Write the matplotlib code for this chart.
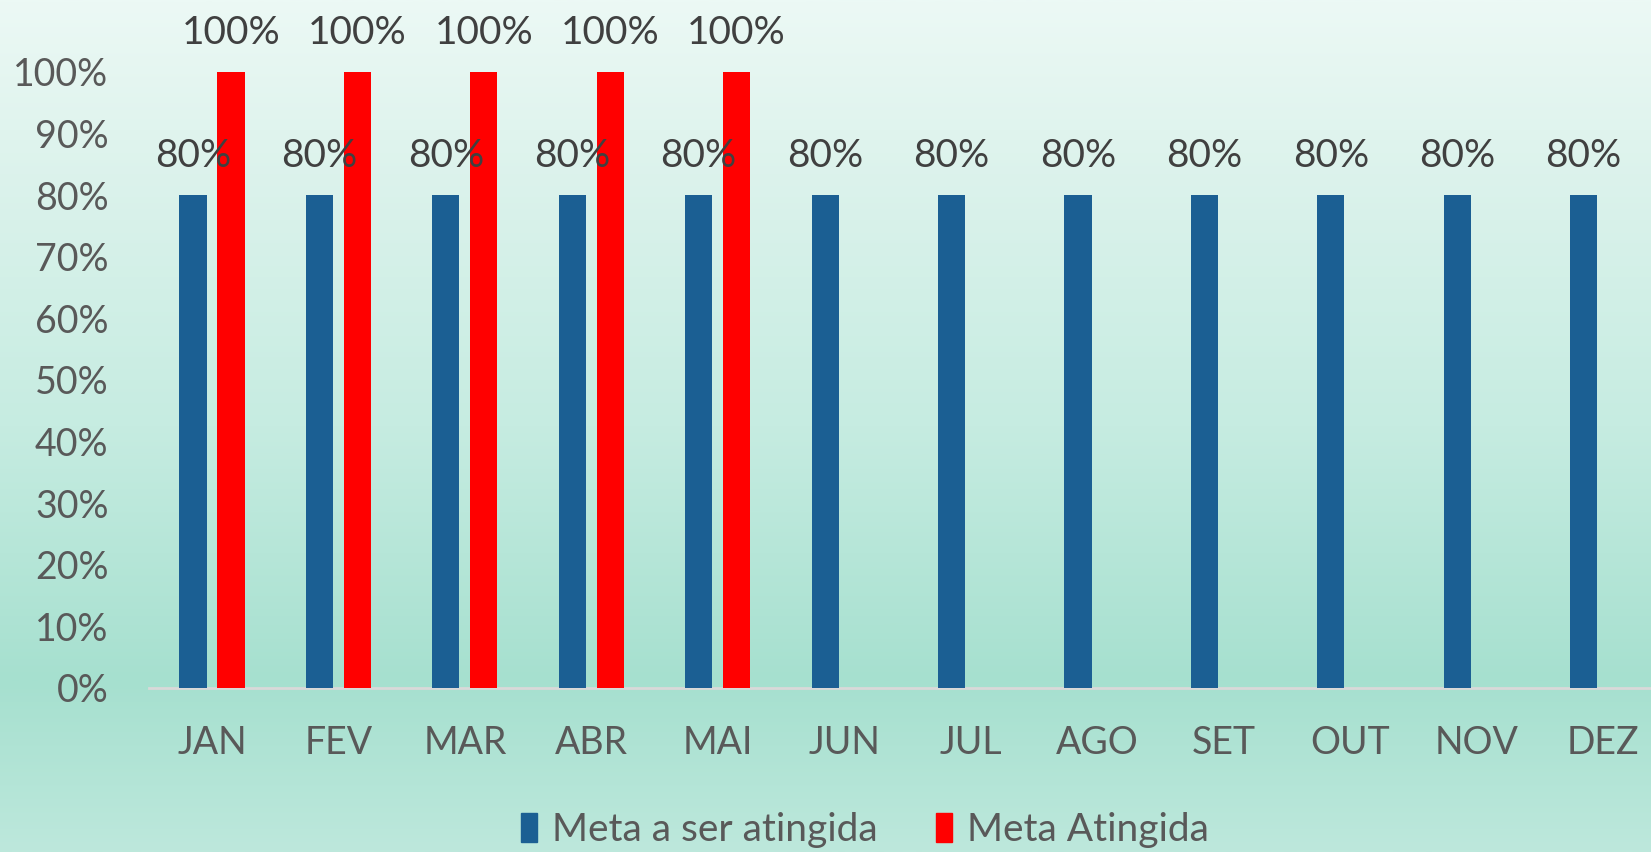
import numpy as np
import matplotlib
matplotlib.use("Agg")
import matplotlib.pyplot as plt
from matplotlib.colors import LinearSegmentedColormap
from matplotlib.patches import Patch

months = ["JAN", "FEV", "MAR", "ABR", "MAI", "JUN", "JUL", "AGO", "SET", "OUT", "NOV", "DEZ"]
meta_alvo = [0.80] * 12
meta_atingida = [1.00, 1.00, 1.00, 1.00, 1.00]
yticks = [0.0, 0.1, 0.2, 0.3, 0.4, 0.5, 0.6, 0.7, 0.8, 0.9, 1.0]
series_names = ["Meta a ser atingida", "Meta Atingida"]

BLUE = "#1b5f93"
RED = "#ff0000"
TXT = "#595959"
LBL = "#404040"

plt.rcParams['font.family'] = ['Lato', 'DejaVu Sans']

fig = plt.figure(figsize=(16.51, 8.52), dpi=100)

# background gradient
bg = fig.add_axes([0, 0, 1, 1], zorder=-10)
cmap = LinearSegmentedColormap.from_list(
    "bg", [(0.0, "#ecf9f5"), (0.15, "#e0f4ee"), (0.5, "#c6ece1"), (0.8, "#a6e0cf"), (1.0, "#bde8dc")])
grad = np.linspace(0, 1, 512).reshape(-1, 1)
bg.imshow(grad, aspect="auto", cmap=cmap, extent=[0, 1, 0, 1], origin="upper")
bg.set_axis_off()

ax = fig.add_axes([148.8 / 1651, 1 - 688 / 852, 1517 / 1651, (688 - 72) / 852])
ax.patch.set_alpha(0)

x = np.arange(len(months))
w = 0.215
off = 0.15
b1 = ax.bar(x - off, meta_alvo, width=w, color=BLUE, zorder=3)
x2 = np.arange(len(meta_atingida))
b2 = ax.bar(x2 + off, meta_atingida, width=w, color=RED, zorder=3)

for rect, v in zip(b1, meta_alvo):
    ax.annotate(f"{v*100:.0f}%", (rect.get_x() + rect.get_width() / 2, v),
                xytext=(0, 15), textcoords="offset points", ha="center", va="bottom",
                fontsize=28, color=LBL, annotation_clip=False)
for rect, v in zip(b2, meta_atingida):
    ax.annotate(f"{v*100:.0f}%", (rect.get_x() + rect.get_width() / 2, v),
                xytext=(0, 15), textcoords="offset points", ha="center", va="bottom",
                fontsize=28, color=LBL, annotation_clip=False)

ax.set_xlim(-0.5, len(months) - 0.5)
ax.set_ylim(0, 1.0)
ax.set_yticks(yticks)
ax.set_yticklabels([f"{t*100:.0f}%" for t in yticks])
ax.set_xticks(x)
ax.set_xticklabels(months)
ax.tick_params(axis="both", length=0, labelsize=27, colors=TXT)
ax.tick_params(axis="y", pad=29)
ax.tick_params(axis="x", pad=27)
for s in ["top", "right", "left"]:
    ax.spines[s].set_visible(False)
ax.spines["bottom"].set_color("#d9d9d9")
ax.spines["bottom"].set_linewidth(2)

handles = [Patch(color=BLUE), Patch(color=RED)]
leg = fig.legend(handles, series_names, loc="center", bbox_to_anchor=(0.524, 0.026),
                 ncol=2, frameon=False, fontsize=28, handlelength=0.4, handleheight=0.75,
                 handletextpad=0.4, columnspacing=1.5, labelcolor=TXT)

fig.savefig("out.png", dpi=100)
